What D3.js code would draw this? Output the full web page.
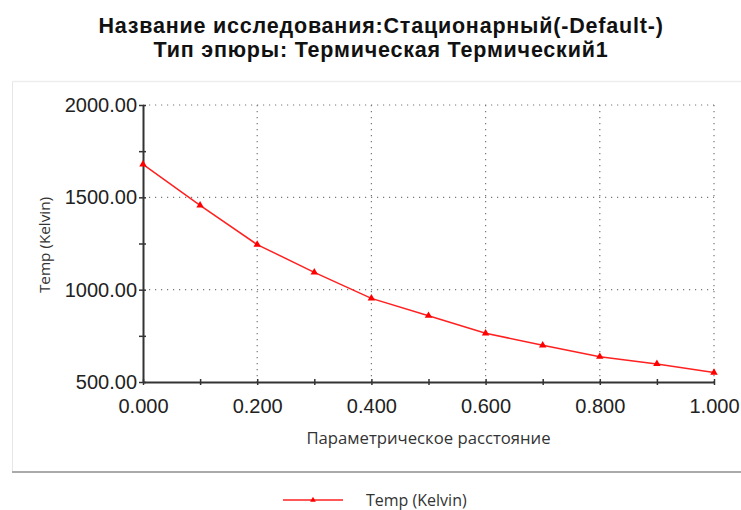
<!DOCTYPE html>
<html>
<head>
<meta charset="utf-8">
<script src="https://cdn.jsdelivr.net/npm/d3@7"></script>
<style>
  body { margin: 0; background: #fff; }
  svg { display: block; font-family: "Liberation Sans", Arial, sans-serif; }
</style>
</head>
<body>
<svg id="chart"></svg>
<script>
// chart data
const titleLines = [
  'Название исследования:Стационарный(-Default-)',
  'Тип эпюры: Термическая Термический1'
];
const xLabel = 'Параметрическое расстояние';
const yLabel = 'Temp (Kelvin)';
const seriesName = 'Temp (Kelvin)';
const distance = [0, 0.1, 0.2, 0.3, 0.4, 0.5, 0.6, 0.7, 0.8, 0.9, 1.0];
const temp = [1679, 1457, 1244, 1094, 953, 859, 764, 699, 637, 598, 551];
const xTicks = [0, 0.2, 0.4, 0.6, 0.8, 1.0];
const xMinorTicks = [0, 0.1, 0.2, 0.3, 0.4, 0.5, 0.6, 0.7, 0.8, 0.9, 1.0];
const yTicks = [500, 1000, 1500, 2000];
const yMinorTicks = [500, 750, 1000, 1250, 1500, 1750, 2000];

const width = 741;
const height = 510;
const margin = { top: 105, right: 27, bottom: 128, left: 143 };
const plotW = width - margin.left - margin.right;
const plotH = height - margin.top - margin.bottom;
const labelFont = '"Open Sans", "Liberation Sans", Arial, sans-serif';

const svg = d3.select('#chart')
  .attr('width', width)
  .attr('height', height);

// outer panel
svg.append('line')
  .attr('x1', 12.5).attr('x2', 12.5).attr('y1', 81).attr('y2', 472)
  .attr('stroke', '#e6e6e6').attr('stroke-width', 1);
svg.append('line')
  .attr('x1', 12).attr('x2', width).attr('y1', 81.5).attr('y2', 81.5)
  .attr('stroke', '#ededed').attr('stroke-width', 1.5);
svg.append('line')
  .attr('x1', 12).attr('x2', width).attr('y1', 472).attr('y2', 472)
  .attr('stroke', '#aaaaaa').attr('stroke-width', 2);

// titles
svg.selectAll('.title')
  .data(titleLines)
  .enter()
  .append('text')
  .attr('class', 'title')
  .attr('x', 381)
  .attr('y', (d, i) => 33 + i * 24)
  .attr('text-anchor', 'middle')
  .style('font-size', '21.5px')
  .style('font-weight', 'bold')
  .style('letter-spacing', '0.8px')
  .style('fill', '#111')
  .text(d => d);

const xScale = d3.scaleLinear().domain([0, 1]).range([0, plotW]);
const yScale = d3.scaleLinear().domain([500, 2000]).range([plotH, 0]);

const g = svg.append('g')
  .attr('transform', `translate(${margin.left}, ${margin.top})`);

// dotted grid
g.append('g')
  .selectAll('line')
  .data(xTicks.slice(1))
  .enter()
  .append('line')
  .attr('x1', d => xScale(d)).attr('x2', d => xScale(d))
  .attr('y1', 0).attr('y2', plotH)
  .attr('stroke', '#777').attr('stroke-width', 1.2)
  .attr('stroke-dasharray', '1.2,4.8');
g.append('g')
  .selectAll('line')
  .data(yTicks.slice(1))
  .enter()
  .append('line')
  .attr('x1', 0).attr('x2', plotW)
  .attr('y1', d => yScale(d)).attr('y2', d => yScale(d))
  .attr('stroke', '#777').attr('stroke-width', 1.2)
  .attr('stroke-dasharray', '1.2,4.8');

// axes
const xAxis = g.append('g')
  .attr('transform', `translate(0, ${plotH})`)
  .call(d3.axisBottom(xScale).tickValues(xMinorTicks).tickSize(0).tickFormat(''));
xAxis.select('.domain').attr('stroke', '#333').attr('stroke-width', 2);
xAxis.selectAll('.tick line')
  .attr('y1', -3).attr('y2', 3)
  .attr('stroke', '#333').attr('stroke-width', 1.5);

const xLabels = g.append('g')
  .attr('transform', `translate(0, ${plotH})`)
  .call(d3.axisBottom(xScale).tickValues(xTicks).tickSize(0).tickFormat(d3.format('.3f')));
xLabels.select('.domain').remove();
xLabels.selectAll('text')
  .attr('dy', null).attr('y', 31)
  .style('font-size', '20px').style('fill', '#222')
  .style('font-family', '"Liberation Sans", Arial, sans-serif');

const yAxis = g.append('g')
  .call(d3.axisLeft(yScale).tickValues(yMinorTicks).tickSize(0).tickFormat(''));
yAxis.select('.domain').attr('stroke', '#333').attr('stroke-width', 2);
yAxis.selectAll('.tick line')
  .attr('x1', -4).attr('x2', 3)
  .attr('stroke', '#333').attr('stroke-width', 1.5);

const yLabels = g.append('g')
  .call(d3.axisLeft(yScale).tickValues(yTicks).tickSize(0).tickPadding(6).tickFormat(d3.format('.2f')));
yLabels.select('.domain').remove();
yLabels.selectAll('text')
  .style('font-size', '20px').style('fill', '#222')
  .style('font-family', '"Liberation Sans", Arial, sans-serif');

// axis titles
svg.append('text')
  .attr('x', margin.left + plotW / 2)
  .attr('y', 444)
  .attr('text-anchor', 'middle')
  .style('font-family', labelFont)
  .style('font-size', '16.7px')
  .style('fill', '#333')
  .text(xLabel);
svg.append('text')
  .attr('transform', 'translate(50, 245) rotate(-90)')
  .attr('text-anchor', 'middle')
  .style('font-family', labelFont)
  .style('font-size', '15.3px')
  .style('fill', '#333')
  .text(yLabel);

// series
const points = distance.map((d, i) => ({ x: d, y: temp[i] }));
const line = d3.line().x(d => xScale(d.x)).y(d => yScale(d.y));
g.append('path')
  .datum(points)
  .attr('fill', 'none')
  .attr('stroke', '#ff2020')
  .attr('stroke-width', 1.5)
  .attr('d', line);

const tri = d3.symbol().type(d3.symbolTriangle).size(24);
g.selectAll('.marker')
  .data(points)
  .enter()
  .append('path')
  .attr('class', 'marker')
  .attr('transform', d => `translate(${xScale(d.x)}, ${yScale(d.y)})`)
  .attr('d', tri)
  .attr('fill', '#ff0000');

// legend
const legend = svg.append('g').attr('transform', 'translate(283, 500)');
legend.append('line')
  .attr('x1', 0).attr('x2', 60).attr('y1', 0).attr('y2', 0)
  .attr('stroke', '#ff2020').attr('stroke-width', 1.5);
legend.append('path')
  .attr('transform', 'translate(30, 0)')
  .attr('d', d3.symbol().type(d3.symbolTriangle).size(14))
  .attr('fill', '#ff0000');
legend.append('text')
  .attr('x', 83).attr('y', 6)
  .style('font-family', labelFont)
  .style('font-size', '16px')
  .style('fill', '#333')
  .text(seriesName);
</script>
</body>
</html>
